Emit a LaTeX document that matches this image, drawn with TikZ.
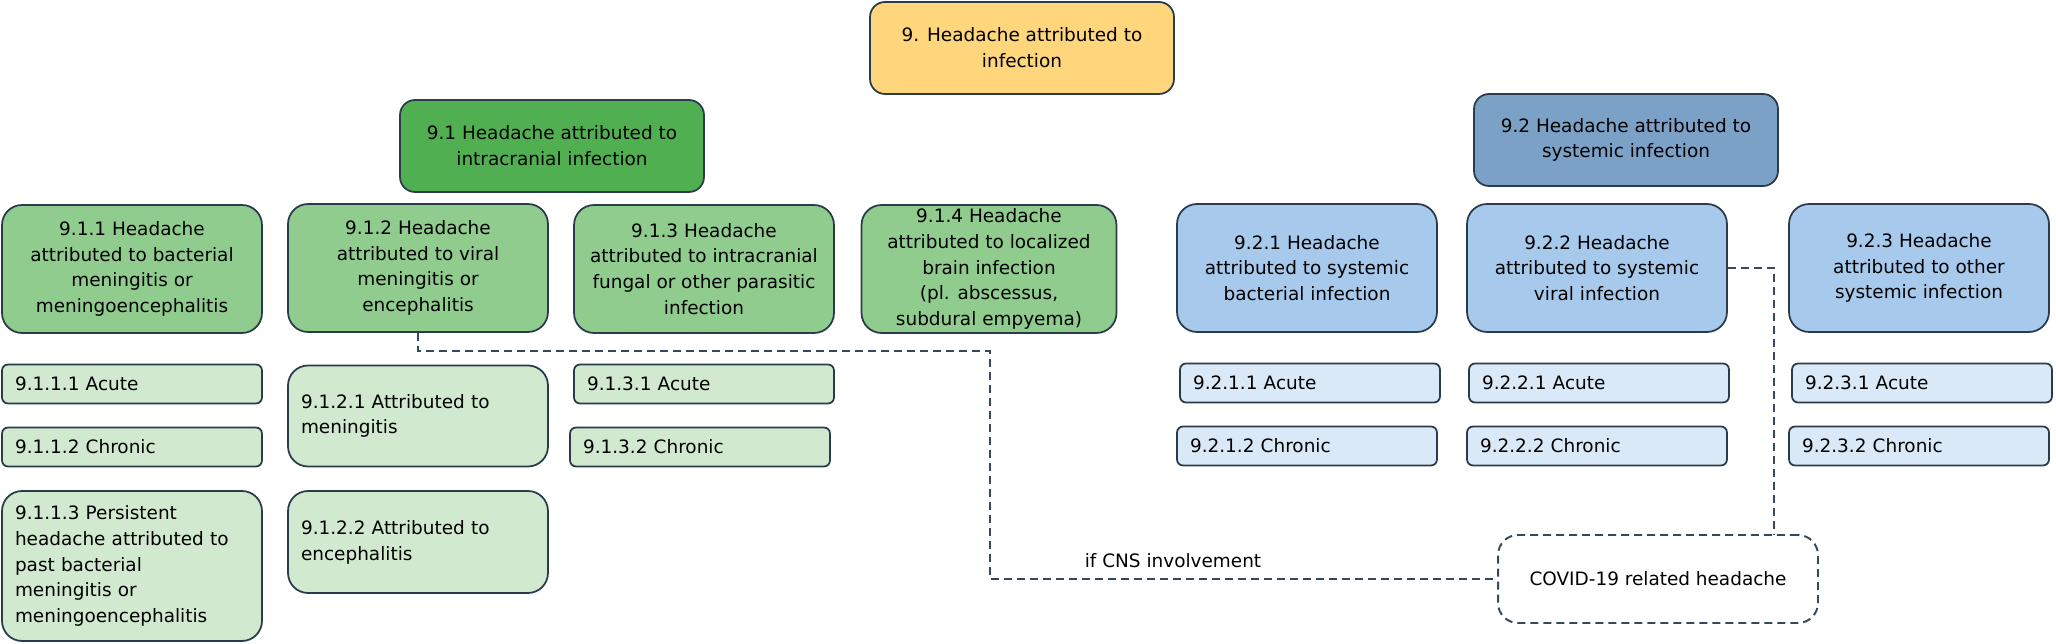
\documentclass[tikz,border=0pt]{standalone}
\usepackage{fontspec}
\setmainfont{DejaVu Sans}
\usepackage{tikz}

\definecolor{edgecol}{HTML}{2A3B4C}
\definecolor{linkcol}{HTML}{34495C}
\definecolor{rootfill}{HTML}{FFD67C}
\definecolor{greenA}{HTML}{50AF50}
\definecolor{greenB}{HTML}{8FCC8D}
\definecolor{greenC}{HTML}{D1E9CF}
\definecolor{blueA}{HTML}{7BA1C7}
\definecolor{blueB}{HTML}{A7CAEC}
\definecolor{blueC}{HTML}{DAE9F7}

\begin{document}
\begin{tikzpicture}[x=0.02cm, y=-0.02cm, font=\fontsize{10.5}{14.7}\selectfont,
  box/.style={draw=edgecol, line width=1pt, rounded corners=0.4cm, align=center, inner sep=0pt},
  head/.style={box, rounded corners=0.3cm, minimum width=6.08cm, minimum height=1.84cm},
  sub/.style={box, minimum width=5.2cm, minimum height=2.56cm},
  leaf/.style={box, rounded corners=0.12cm, align=left, inner xsep=0.26cm, inner ysep=0pt,
    text width=4.68cm, minimum height=0.78cm},
  tall/.style={leaf, rounded corners=0.4cm},
  link/.style={draw=linkcol, line width=1.1pt, dash pattern=on 0.16cm off 0.1cm}]
  \useasboundingbox (0,0) rectangle (2056,644);

  \node[head, fill=rootfill] (root) at (1022,48) {9. Headache attributed to\\infection};
  \node[head, fill=greenA] (n91) at (552,146) {9.1 Headache attributed to\\intracranial infection};
  \node[head, fill=blueA] (n92) at (1626,140) {9.2 Headache attributed to\\systemic infection};

  \node[sub, fill=greenB] (n911) at (132,269) {9.1.1 Headache\\attributed to bacterial\\meningitis or\\meningoencephalitis};
  \node[sub, fill=greenB] (n912) at (418,268) {9.1.2 Headache\\attributed to viral\\meningitis or\\encephalitis};
  \node[sub, fill=greenB] (n913) at (704,269) {9.1.3 Headache\\attributed to intracranial\\fungal or other parasitic\\infection};
  \node[sub, fill=greenB, minimum width=5.1cm] (n914) at (989,269) {9.1.4 Headache\\attributed to localized\\brain infection\\(pl. abscessus,\\subdural empyema)};
  \node[sub, fill=blueB] (n921) at (1307,268) {9.2.1 Headache\\attributed to systemic\\bacterial infection};
  \node[sub, fill=blueB] (n922) at (1597,268) {9.2.2 Headache\\attributed to systemic\\viral infection};
  \node[sub, fill=blueB] (n923) at (1919,268) {9.2.3 Headache\\attributed to other\\systemic infection};

  \node[leaf, fill=greenC] (n9111) at (132,384) {9.1.1.1 Acute};
  \node[leaf, fill=greenC] (n9112) at (132,447) {9.1.1.2 Chronic};
  \node[tall, fill=greenC, minimum height=3cm] (n9113) at (132,566) {9.1.1.3 Persistent\\headache attributed to\\past bacterial\\meningitis or\\meningoencephalitis};
  \node[tall, fill=greenC, minimum height=2.02cm] (n9121) at (418,416) {9.1.2.1 Attributed to\\meningitis};
  \node[tall, fill=greenC, minimum height=2.04cm] (n9122) at (418,542) {9.1.2.2 Attributed to\\encephalitis};
  \node[leaf, fill=greenC] (n9131) at (704,384) {9.1.3.1 Acute};
  \node[leaf, fill=greenC] (n9132) at (700,447) {9.1.3.2 Chronic};

  \node[leaf, fill=blueC] (n9211) at (1310,383) {9.2.1.1 Acute};
  \node[leaf, fill=blueC] (n9212) at (1307,446) {9.2.1.2 Chronic};
  \node[leaf, fill=blueC] (n9221) at (1599,383) {9.2.2.1 Acute};
  \node[leaf, fill=blueC] (n9222) at (1597,446) {9.2.2.2 Chronic};
  \node[leaf, fill=blueC] (n9231) at (1922,383) {9.2.3.1 Acute};
  \node[leaf, fill=blueC] (n9232) at (1919,446) {9.2.3.2 Chronic};

  \node[box, link, fill=white, minimum width=6.4cm, minimum height=1.76cm] (covid) at (1658,579) {COVID-19 related headache};

  \coordinate (cnsturn) at (990,351);
  \coordinate (viraldrop) at (1774,0);
  \draw[link] (n912.south) |- (cnsturn) |- (covid.west);
  \draw[link] (n922.east) -| (viraldrop |- covid.north);
  \node (cnslbl) at (1173,561) {if CNS involvement};
\end{tikzpicture}
\end{document}
